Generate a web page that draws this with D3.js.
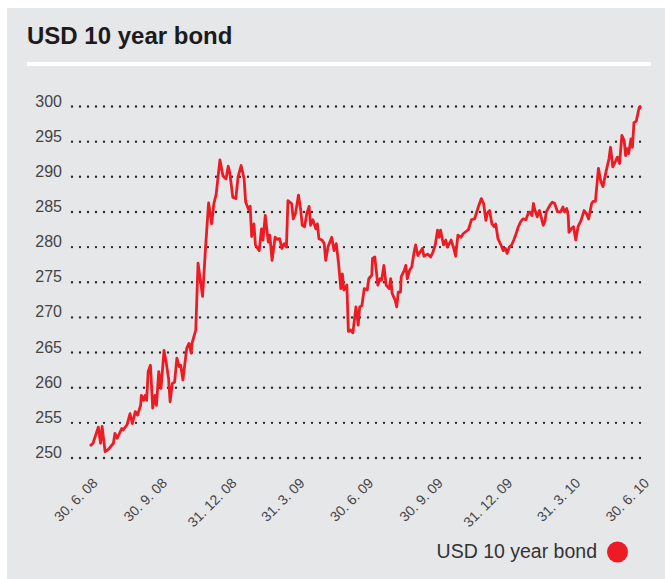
<!DOCTYPE html>
<html>
<head>
<meta charset="utf-8">
<script src="https://cdn.jsdelivr.net/npm/d3@7"></script>
<style>
  body { margin: 0; background: #fff; }
  text { font-family: "Liberation Sans", Arial, Helvetica, sans-serif; }
</style>
</head>
<body>
<svg id="svg1" width="665" height="579"></svg>
<script>
'use strict';

// series: days after 30.6.08 and the value
let dayOffsets = [
  0, 4, 11, 14, 16, 20, 24, 31, 33, 36, 42, 44, 49, 53, 56, 60, 63, 65, 67, 68,
  71, 73, 75, 77, 80, 83, 86, 88, 91, 94, 98, 101, 104, 106, 109, 112, 115, 118, 120, 123,
  128, 131, 134, 135, 140, 143, 149, 153, 157, 161, 164, 167, 172, 176, 180, 183, 185, 189, 193, 196,
  200, 204, 206, 210, 212, 214, 217, 219, 224, 227, 229, 232, 236, 238, 241, 245, 248, 251, 254, 257,
  260, 262, 267, 269, 272, 276, 279, 281, 284, 287, 290, 292, 295, 299, 301, 303, 307, 310, 312, 315,
  320, 323, 326, 329, 332, 334, 336, 340, 342, 345, 348, 352, 355, 357, 360, 363, 367, 369, 373, 374,
  377, 381, 384, 386, 389, 392, 396, 398, 400, 404, 406, 408, 411, 412, 416, 418, 420, 423, 426, 429,
  431, 434, 440, 442, 447, 451, 454, 457, 460, 462, 464, 468, 471, 473, 478, 481, 484, 487, 491, 494,
  501, 505, 509, 514, 518, 521, 524, 526, 529, 532, 535, 537, 540, 544, 547, 550, 552, 555, 558, 561,
  564, 567, 570, 573, 577, 580, 582, 585, 587, 589, 592, 595, 600, 602, 604, 609, 612, 615, 619, 623,
  626, 628, 631, 633, 634, 637, 640, 643, 646, 650, 654, 657, 660, 664, 666, 669, 673, 676, 679, 683,
  687, 689, 692, 696, 698, 701, 704, 707, 709, 711, 713, 716, 718, 720, 723, 727, 730
];
let bondValues = [
  251.7, 252.1, 254.4, 252.1, 254.5, 250.9, 251.2, 252.1, 253.5, 252.8, 254.2, 254.0, 254.7, 256.3, 254.9, 256.6, 256.1, 256.8, 257.5, 258.9,
  258.2, 258.9, 258.2, 262.3, 263.2, 257.1, 258.9, 257.5, 262.3, 259.9, 265.3, 263.5, 261.3, 258.0, 260.6, 260.8, 264.2, 263.0, 263.2, 261.1,
  265.6, 266.3, 264.9, 266.3, 268.2, 277.7, 273.0, 280.0, 286.3, 283.3, 286.2, 287.5, 292.4, 290.1, 289.7, 291.5, 290.6, 287.1, 286.9, 290.0,
  291.6, 289.7, 286.4, 285.3, 285.8, 281.5, 283.3, 280.3, 279.5, 282.6, 281.0, 284.5, 280.7, 281.7, 278.1, 281.4, 281.1, 281.2, 279.8, 280.5,
  280.0, 286.6, 286.2, 284.0, 284.8, 287.4, 285.2, 283.1, 282.9, 284.8, 285.8, 283.1, 283.9, 282.6, 283.3, 281.2, 281.0, 280.5, 278.1, 280.0,
  281.4, 279.5, 280.5, 277.7, 274.1, 276.2, 273.9, 274.6, 268.0, 268.2, 267.8, 271.5, 268.9, 271.5, 271.7, 274.1, 273.9, 275.5, 276.0, 278.4,
  278.6, 274.6, 275.5, 275.3, 277.4, 274.6, 274.1, 275.5, 273.4, 272.4, 271.5, 273.6, 273.6, 275.8, 276.7, 277.4, 275.5, 276.7, 277.2, 279.3,
  280.3, 278.8, 279.8, 278.7, 279.0, 278.6, 279.3, 280.3, 282.4, 281.4, 282.4, 280.3, 281.0, 280.0, 281.0, 280.0, 278.7, 281.7, 281.4, 281.9,
  282.5, 283.9, 284.0, 285.7, 286.9, 286.2, 283.8, 284.8, 285.2, 283.3, 282.9, 283.3, 281.2, 280.3, 279.5, 279.8, 279.1, 280.0, 280.3, 281.0,
  281.9, 282.9, 283.6, 284.0, 283.9, 284.8, 285.0, 284.5, 286.2, 285.2, 284.3, 285.2, 283.1, 283.6, 285.0, 286.0, 286.4, 286.2, 285.0, 285.0,
  285.7, 285.0, 285.5, 284.5, 282.1, 282.6, 282.9, 281.0, 282.9, 283.8, 285.2, 284.8, 284.0, 286.2, 286.5, 286.5, 291.2, 289.4, 288.6, 290.7,
  292.6, 294.2, 291.4, 292.3, 292.8, 291.9, 295.9, 295.2, 293.0, 294.0, 293.3, 295.4, 294.2, 297.7, 297.9, 299.9, 299.8
];

// axis ticks
let tickDates = ["2008-06-30", "2008-09-30", "2008-12-31", "2009-03-31", "2009-06-30",
                 "2009-09-30", "2009-12-31", "2010-03-31", "2010-06-30"];
let tickLabels = ["30. 6. 08", "30. 9. 08", "31. 12. 08", "31. 3. 09", "30. 6. 09",
                  "30. 9. 09", "31. 12. 09", "31. 3. 10", "30. 6. 10"];
let yTicks = [250, 255, 260, 265, 270, 275, 280, 285, 290, 295, 300];

let titleText = "USD 10 year bond";
let seriesName = "USD 10 year bond";

let red = "#ed1c24";
let parseDate = d3.timeParse("%Y-%m-%d");
let startDate = parseDate(tickDates[0]);

let data = dayOffsets.map((d, i) => ({date: d3.timeDay.offset(startDate, d), value: bondValues[i]}));

let svg = d3.select("#svg1");

// grey panel, title and white rule
svg.append("rect")
  .attr("x", 7).attr("y", 8)
  .attr("width", 658).attr("height", 571)
  .style("fill", "#e6e7e9");

svg.append("text")
  .attr("x", 27).attr("y", 44)
  .style("font-size", "24px")
  .style("font-weight", "bold")
  .style("fill", "#1b1b1b")
  .text(titleText);

svg.append("rect")
  .attr("x", 27).attr("y", 62)
  .attr("width", 624).attr("height", 4)
  .style("fill", "#fff");

// scales
let x = d3.scaleTime()
  .domain([startDate, parseDate(tickDates[tickDates.length - 1])])
  .range([90, 641.5]);
let y = d3.scaleLinear().domain([250, 300]).range([458, 106.5]);

// dotted grid lines
let gridLeft = 72, gridRight = 641;
svg.append("g")
  .selectAll("line")
  .data(yTicks)
  .enter().append("line")
  .attr("x1", gridLeft).attr("x2", gridRight)
  .attr("y1", d => y(d)).attr("y2", d => y(d))
  .style("stroke", "#2b2b2b")
  .style("stroke-width", 2.4)
  .style("stroke-linecap", "round")
  .style("stroke-dasharray", "0,8");

// y labels
svg.append("g")
  .selectAll("text")
  .data(yTicks)
  .enter().append("text")
  .attr("x", 62)
  .attr("y", d => y(d))
  .attr("text-anchor", "end")
  .style("font-size", "16px")
  .style("fill", "#444")
  .text(d => d);

// x labels, rotated
let xAxis = d3.axisBottom(x)
  .tickValues(tickDates.map(parseDate))
  .tickFormat((d, i) => tickLabels[i])
  .tickSize(0);
let gx = svg.append("g")
  .attr("transform", "translate(0,476)")
  .call(xAxis);
gx.select(".domain").remove();
gx.selectAll(".tick text")
  .attr("text-anchor", "end")
  .attr("dy", 0)
  .attr("y", 0)
  .attr("transform", "translate(8,8) rotate(-45)")
  .style("font-size", "14px")
  .style("font-family", "'Liberation Sans', Arial, sans-serif")
  .style("fill", "#444");

// the line
let line = d3.line()
  .x(d => x(d.date))
  .y(d => y(d.value));
svg.append("path")
  .datum(data)
  .attr("d", line)
  .style("fill", "none")
  .style("stroke", red)
  .style("stroke-width", 2.8)
  .style("stroke-linejoin", "round");

// legend
svg.append("text")
  .attr("x", 597).attr("y", 558)
  .attr("text-anchor", "end")
  .style("font-size", "19.5px")
  .style("fill", "#333")
  .text(seriesName);
svg.append("circle")
  .attr("cx", 617.5).attr("cy", 552)
  .attr("r", 10.5)
  .style("fill", red);
</script>
</body>
</html>
